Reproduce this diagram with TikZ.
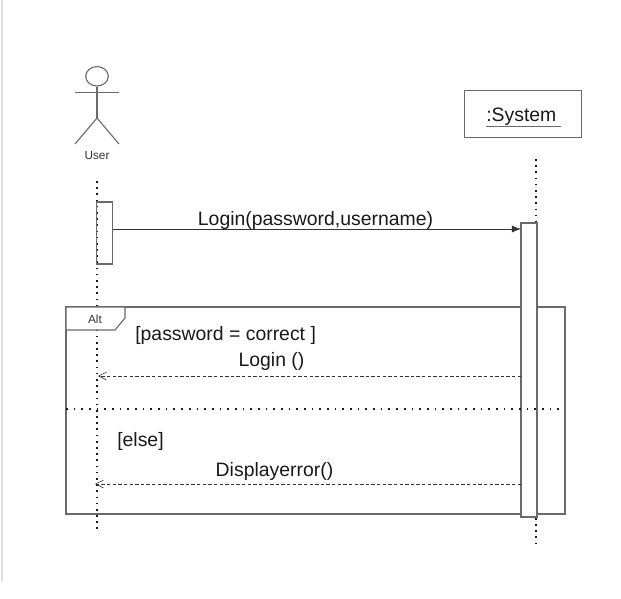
\documentclass[tikz,border=0pt]{standalone}
\usepackage{amsmath}
\usepackage{fontspec}
\setmainfont{Liberation Sans}
\usetikzlibrary{arrows.meta}
\usetikzlibrary{calc}
\usetikzlibrary{shapes.geometric}
\definecolor{linegray}{HTML}{6A6A6A}
\tikzset{
	stick/.style={draw=linegray,line width=0.8pt},
	lifeline/.style={draw=black!90,line width=1.2pt,dash pattern=on 1.2pt off 3.2pt},
	separator/.style={draw=black!90,line width=1.2pt,dash pattern=on 1.2pt off 4.26pt},
	activation/.style={draw=linegray,line width=0.8pt,minimum width=16*0.025cm,inner sep=0pt},
	message/.style={draw=black!80,line width=0.5pt,-{Latex[length=6.5pt,width=5pt]}},
	reply/.style={draw=black!80,line width=0.5pt,dash pattern=on 2.4pt off 1.6pt,-{Straight Barb[length=5.6pt,width=5.6pt,line width=0.4pt]}},
	label/.style={inner sep=0pt,font=\fontsize{13.8}{16}\selectfont,text=black!90},
	small/.style={inner sep=0pt,font=\fontsize{8.4}{10}\selectfont,text=black!80}
}
\begin{document}
\begin{tikzpicture}[x=0.025cm,y=-0.025cm]
\useasboundingbox (0,0) rectangle (621,599);

\coordinate (pageTop) at (2,0);
\coordinate (pageEnd) at (2,582);
\draw [draw=black!12,line width=1pt] (pageTop) -- (pageEnd);

% the actor
\node (head) [draw=linegray,line width=0.8pt,ellipse,minimum width=22.6*0.025cm,minimum height=19.4*0.025cm,inner sep=0pt] at (97,76.3) {};
\coordinate (armL) at (75,92.3);
\coordinate (armR) at (119,92.3);
\coordinate (hip) at (97,118);
\coordinate (legL) at (75,144);
\coordinate (legR) at (119,144);
\draw [stick] (head) -- (hip);
\draw [stick] (armL) -- (armR);
\draw [stick] (legL) -- (hip) -- (legR);
\node (user) [small] at (97,155) {User};

% the system
\node (system) [draw=linegray,line width=0.8pt,minimum width=117.4*0.025cm,minimum height=47*0.025cm,inner sep=0pt] at (523,113.8) {};
\node (systemName) [label,anchor=base west] at (486,121.5) {:System};
\coordinate (underL) at (486,126.5);
\coordinate (underR) at (561,126.5);
\draw [draw=linegray,line width=1pt] (underL) -- (underR);

% lifelines
\coordinate (userTop) at (96.7,181);
\coordinate (userEnd) at (96.7,530);
\coordinate (systemTop) at (536,159);
\coordinate (systemEnd) at (536,548);
\draw [lifeline] (userTop) -- (userEnd);
\draw [lifeline] (systemTop) -- (systemEnd);

% the frame
\node (frame) [draw=linegray,line width=0.8pt,minimum width=499*0.025cm,minimum height=207*0.025cm,inner sep=0pt] at (315.5,410.5) {};
\coordinate (tabCorner) at (66,307);
\coordinate (tabTop) at (125,307);
\coordinate (tabEdge) at (125,318);
\coordinate (tabCut) at (115,330);
\coordinate (tabLeft) at (66,330);
\fill [white] (tabCorner) -- (tabTop) -- (tabEdge) -- (tabCut) -- (tabLeft) -- cycle;
\draw [stick] (tabLeft) -- (tabCorner) -- (tabTop) -- (tabEdge) -- (tabCut) -- (tabLeft);
\node (alt) [small] at (95,319) {Alt};

\node (userBar) [activation,minimum height=62*0.025cm] at (104.5,233) {};
\node (systemBar) [activation,fill=white,minimum height=294*0.025cm] at (529,370) {};

\coordinate (splitL) at (66,409);
\coordinate (splitR) at (561,409);
\draw [separator] (splitL) -- (splitR);

% messages
\coordinate (loginFrom) at (113,229);
\coordinate (loginTo) at (521,229);
\draw [message] (loginFrom) -- (loginTo);
\node (login) [label,anchor=base] at (315.5,225) {Login(password,username)};

\coordinate (okFrom) at (521,376);
\coordinate (okTo) at (98,376);
\draw [reply] (okFrom) -- (okTo);
\node (guard) [label,anchor=base west] at (135,340.5) {[password = correct ]};
\node (loginBack) [label,anchor=base] at (271.5,366.5) {Login ()};

\coordinate (errFrom) at (521,484);
\coordinate (errTo) at (95,484);
\draw [reply] (errFrom) -- (errTo);
\node (otherwise) [label,anchor=base west] at (117,446.5) {[else]};
\node (error) [label,anchor=base] at (274.5,476.5) {Displayerror()};

\end{tikzpicture}
\end{document}
